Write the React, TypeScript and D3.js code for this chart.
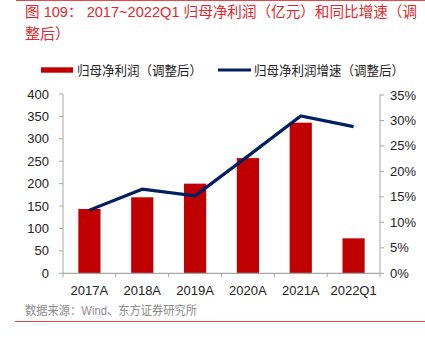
import React from "react";
import * as d3 from "d3";

const categories = ["2017A", "2018A", "2019A", "2020A", "2021A", "2022Q1"];
const profit = [143.5, 169.5, 200, 257, 336, 78];
const growth = [12.4, 16.5, 15.2, 23.0, 30.9, 28.8];
const leftTicks = [0, 50, 100, 150, 200, 250, 300, 350, 400];
const rightTicks = [0, 5, 10, 15, 20, 25, 30, 35];

const FONT = "'Liberation Sans', Arial, 'Noto Sans CJK SC', sans-serif";
const AXIS = "#A6A6A6";
const RED = "#C00000";
const NAVY = "#002060";
const TITLE_RED = "#E8262B";

export default function App() {
  const W = 425, H = 343;
  const x0 = 63, x1 = 380, yTop = 94, yBot = 273.3;
  const x = d3.scaleBand<string>().domain(categories).range([x0, x1]).paddingInner(0).paddingOuter(0);
  const yL = d3.scaleLinear().domain([0, 400]).range([yBot, yTop]);
  const yR = d3.scaleLinear().domain([0, 35]).range([yBot, yTop + 1]);
  const bw = x.bandwidth() * 0.42;
  const line = d3.line<number>()
    .x((_, i) => (x(categories[i]) as number) + x.bandwidth() / 2)
    .y((d) => yR(d));
  const bandEdges = categories.map((c) => x(c) as number).concat([x1]);

  return (
    <svg width={W} height={H} style={{ position: "absolute", left: 0, top: 0 }} fontFamily={FONT}>
      <rect width={W} height={H} fill="#fff" />
      <line x1={16} x2={W} y1={0.5} y2={0.5} stroke="#E04A4A" strokeWidth={1.2} />
      <text x={25} y={17} fontSize={14.5} fill={TITLE_RED} textLength={392} lengthAdjust="spacingAndGlyphs">图 109： 2017~2022Q1 归母净利润（亿元）和同比增速（调</text>
      <text x={25} y={39} fontSize={15} fill={TITLE_RED}>整后）</text>

      {/* legend */}
      <rect x={41} y={67.3} width={32} height={5.4} fill={RED} />
      <text x={77} y={75} fontSize={13} fill="#222" textLength={125} lengthAdjust="spacingAndGlyphs">归母净利润（调整后）</text>
      <line x1={218} x2={251} y1={70} y2={70} stroke={NAVY} strokeWidth={3} />
      <text x={254} y={75} fontSize={13} fill="#222" textLength={150} lengthAdjust="spacingAndGlyphs">归母净利润增速（调整后）</text>

      {/* bars */}
      {categories.map((c, i) => (
        <rect key={c} x={(x(c) as number) + x.bandwidth() / 2 - bw / 2} y={yL(profit[i])}
          width={bw} height={yBot - yL(profit[i])} fill={RED} />
      ))}

      {/* line */}
      <path d={line(growth) as string} fill="none" stroke={NAVY} strokeWidth={3.2} strokeLinejoin="miter" />

      {/* axes */}
      <line x1={x0} x2={x0} y1={yTop} y2={yBot} stroke={AXIS} strokeWidth={1} />
      {leftTicks.map((t) => (
        <g key={"l" + t}>
          <line x1={x0 - 4} x2={x0} y1={yL(t)} y2={yL(t)} stroke={AXIS} />
          <text x={49} y={yL(t) + 4.5} fontSize={13} textAnchor="end" fill="#222">{t}</text>
        </g>
      ))}
      <line x1={x1} x2={x1} y1={yTop} y2={yBot} stroke={AXIS} strokeWidth={1} />
      {rightTicks.map((t) => (
        <g key={"r" + t}>
          <line x1={x1} x2={x1 + 4} y1={yR(t)} y2={yR(t)} stroke={AXIS} />
          <text x={390} y={yR(t) + 4.5} fontSize={13} textAnchor="start" fill="#222">{t}%</text>
        </g>
      ))}
      <line x1={x0} x2={x1} y1={yBot} y2={yBot} stroke={AXIS} strokeWidth={1.2} />
      {bandEdges.map((e, i) => (
        <line key={"b" + i} x1={e} x2={e} y1={yBot} y2={yBot + 4} stroke={AXIS} />
      ))}
      {categories.map((c) => (
        <text key={"x" + c} x={(x(c) as number) + x.bandwidth() / 2} y={295} fontSize={13}
          textAnchor="middle" fill="#222">{c}</text>
      ))}

      <text x={25} y={315} fontSize={12.5} fill="#8C8C8C" textLength={172} lengthAdjust="spacingAndGlyphs">数据来源：Wind、东方证券研究所</text>
      <line x1={15} x2={W} y1={321.5} y2={321.5} stroke="#E04A4A" strokeWidth={1.2} />
    </svg>
  );
}
